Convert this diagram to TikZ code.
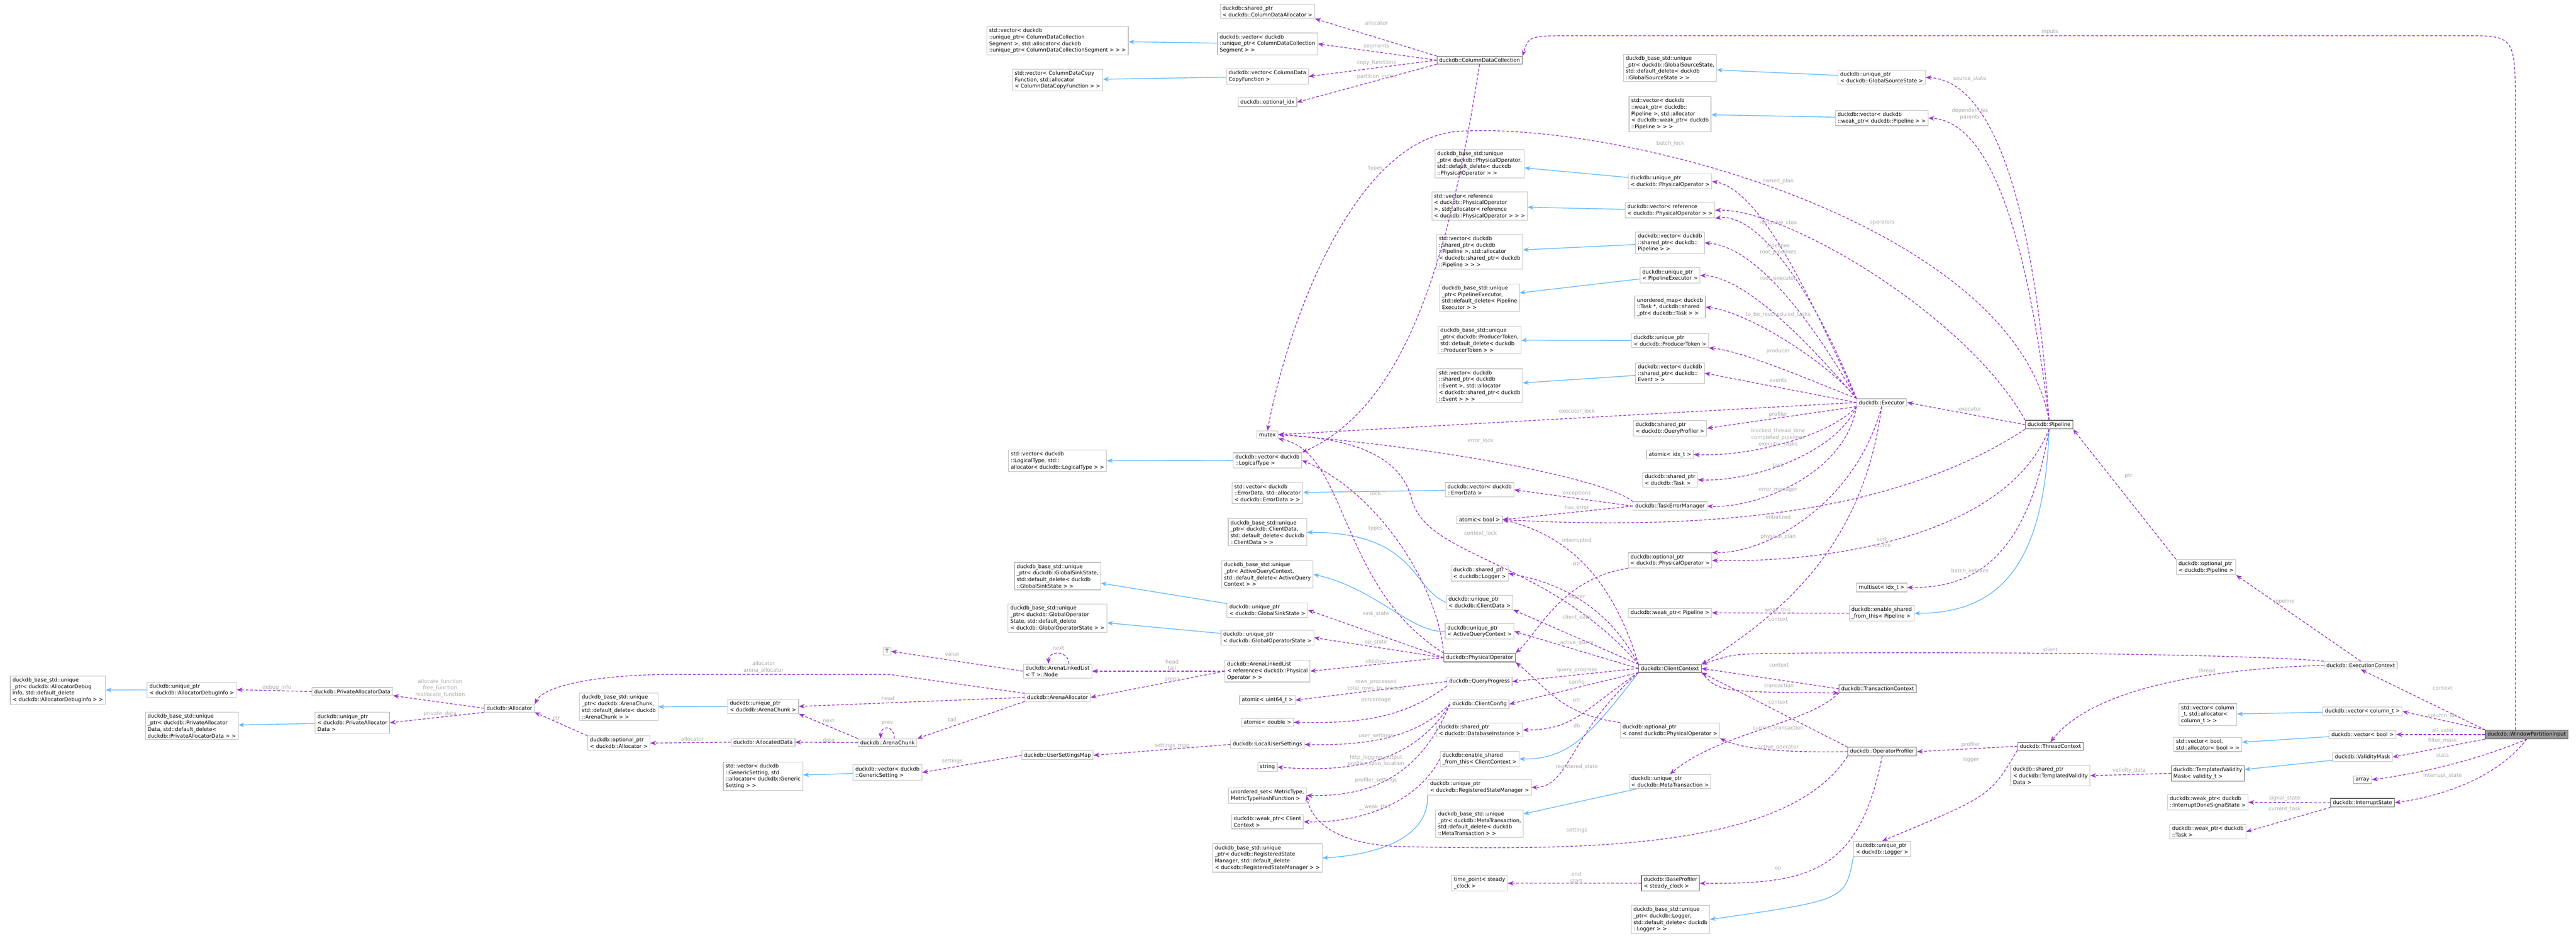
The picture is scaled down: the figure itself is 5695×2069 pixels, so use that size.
\documentclass[tikz,border=0pt]{standalone}
\usepackage{fontspec}
\setmainfont{DejaVu Sans}
\usetikzlibrary{arrows.meta}
\definecolor{mpurple}{HTML}{9A32CD}
\definecolor{iblue}{HTML}{63B8FF}
\definecolor{boxgray}{HTML}{BFBFBF}
\definecolor{dgray}{HTML}{666666}
\definecolor{lgray}{HTML}{A8A8A8}
\newcommand{\nf}{\fontsize{11.5}{14.5}\selectfont}
\begin{document}
\begin{tikzpicture}[x=1pt,y=-1pt,
 box/.style={draw=boxgray,line width=1.3pt,fill=white,align=left,inner xsep=5pt,inner ysep=4pt,font=\nf},
 dark/.style={box,draw=dgray},
 mem/.style={draw=mpurple,line width=1.6pt,dash pattern=on 6pt off 4pt,-{Stealth[length=13pt,width=10pt]}},
 inh/.style={draw=iblue,line width=1.6pt,-{Stealth[length=13pt,width=10pt]}},
 lab/.style={text=lgray,font=\nf,align=center,inner sep=0pt}]
\useasboundingbox[fill=white] (0,0) rectangle (5695,2069);
% ---------- nodes ----------
\node[box] (sCDA) at (2802,25) {duckdb::shared\_ptr\\< duckdb::ColumnDataAllocator >};
\node[box] (stdSeg) at (2338,90) {std::vector< duckdb\\::unique\_ptr< ColumnDataCollection\\Segment >, std::allocator< duckdb\\::unique\_ptr< ColumnDataCollectionSegment > > >};
\node[box] (vSeg) at (2802,97) {duckdb::vector< duckdb\\::unique\_ptr< ColumnDataCollection\\Segment > >};
\node[box] (stdCopy) at (2338,177) {std::vector< ColumnDataCopy\\Function, std::allocator\\< ColumnDataCopyFunction > >};
\node[box] (vCopy) at (2802,169) {duckdb::vector< ColumnData\\CopyFunction >};
\node[box] (optidx) at (2802,226) {duckdb::optional\_idx};
\node[dark] (CDC) at (3271,133) {duckdb::ColumnDataCollection};
\node[box] (bPO) at (3271,362) {duckdb\_base\_std::unique\\\_ptr< duckdb::PhysicalOperator,\\ std::default\_delete< duckdb\\::PhysicalOperator > >};
\node[box] (stdRef) at (3271,456) {std::vector< reference\\< duckdb::PhysicalOperator\\ >, std::allocator< reference\\< duckdb::PhysicalOperator > > >};
\node[box] (stdSPipe) at (3271,557) {std::vector< duckdb\\::shared\_ptr< duckdb\\::Pipeline >, std::allocator\\< duckdb::shared\_ptr< duckdb\\::Pipeline > > >};
\node[box] (bPE) at (3271,658) {duckdb\_base\_std::unique\\\_ptr< PipelineExecutor,\\ std::default\_delete< Pipeline\\Executor > >};
\node[box] (bGSS) at (3692,150) {duckdb\_base\_std::unique\\\_ptr< duckdb::GlobalSourceState,\\ std::default\_delete< duckdb\\::GlobalSourceState > >};
\node[box] (uGSS) at (4160,171) {duckdb::unique\_ptr\\< duckdb::GlobalSourceState >};
\node[box] (stdWPipe) at (3692,252) {std::vector< duckdb\\::weak\_ptr< duckdb::\\Pipeline >, std::allocator\\< duckdb::weak\_ptr< duckdb\\::Pipeline > > >};
\node[box] (vWPipe) at (4160,261) {duckdb::vector< duckdb\\::weak\_ptr< duckdb::Pipeline > >};
\node[box] (uPO) at (3692,401) {duckdb::unique\_ptr\\< duckdb::PhysicalOperator >};
\node[box] (vRef) at (3692,465) {duckdb::vector< reference\\< duckdb::PhysicalOperator > >};
\node[box] (vSPipe) at (3692,537) {duckdb::vector< duckdb\\::shared\_ptr< duckdb::\\Pipeline > >};
\node[box] (uPE) at (3692,609) {duckdb::unique\_ptr\\< PipelineExecutor >};
\node[box] (umap) at (3692,679) {unordered\_map< duckdb\\::Task *, duckdb::shared\\\_ptr< duckdb::Task > >};
\node[box] (bPT) at (3271,752) {duckdb\_base\_std::unique\\\_ptr< duckdb::ProducerToken,\\ std::default\_delete< duckdb\\::ProducerToken > >};
\node[box] (uPT) at (3692,753) {duckdb::unique\_ptr\\< duckdb::ProducerToken >};
\node[box] (stdEv) at (3271,853) {std::vector< duckdb\\::shared\_ptr< duckdb\\::Event >, std::allocator\\< duckdb::shared\_ptr< duckdb\\::Event > > >};
\node[box] (vEv) at (3692,825) {duckdb::vector< duckdb\\::shared\_ptr< duckdb::\\Event > >};
\node[box] (Exec) at (4160,890) {duckdb::Executor};
\node[box] (sQP) at (3692,947) {duckdb::shared\_ptr\\< duckdb::QueryProfiler >};
\node[box] (aIdx) at (3692,1005) {atomic< idx\_t >};
\node[box] (sTask) at (3692,1061) {duckdb::shared\_ptr\\< duckdb::Task >};
\node[box] (TEM) at (3692,1119) {duckdb::TaskErrorManager};
\node[dark] (Pipe) at (4530,939) {duckdb::Pipeline};
\node[box] (oPO) at (3692,1239) {duckdb::optional\_ptr\\< duckdb::PhysicalOperator >};
\node[box] (mset) at (4160,1299) {multiset< idx\_t >};
\node[box] (esfPipe) at (4160,1356) {duckdb::enable\_shared\\\_from\_this< Pipeline >};
\node[box] (wPipe) at (3692,1355) {duckdb::weak\_ptr< Pipeline >};
\node[box] (mutex) at (2802,961) {mutex};
\node[box] (stdLT) at (2338,1019) {std::vector< duckdb\\::LogicalType, std::\\allocator< duckdb::LogicalType > >};
\node[box] (vLT) at (2802,1018) {duckdb::vector< duckdb\\::LogicalType >};
\node[box] (stdED) at (2802,1090) {std::vector< duckdb\\::ErrorData, std::allocator\\< duckdb::ErrorData > >};
\node[box] (vED) at (3271,1083) {duckdb::vector< duckdb\\::ErrorData >};
\node[box] (bCD) at (2802,1177) {duckdb\_base\_std::unique\\\_ptr< duckdb::ClientData,\\ std::default\_delete< duckdb\\::ClientData > >};
\node[box] (aBool) at (3271,1149) {atomic< bool >};
\node[box] (bGSink) at (2338,1274) {duckdb\_base\_std::unique\\\_ptr< duckdb::GlobalSinkState,\\ std::default\_delete< duckdb\\::GlobalSinkState > >};
\node[box] (bAQC) at (2802,1270) {duckdb\_base\_std::unique\\\_ptr< ActiveQueryContext,\\ std::default\_delete< ActiveQuery\\Context > >};
\node[box] (sLog) at (3271,1268) {duckdb::shared\_ptr\\< duckdb::Logger >};
\node[box] (uCD) at (3271,1332) {duckdb::unique\_ptr\\< duckdb::ClientData >};
\node[box] (uGSink) at (2802,1349) {duckdb::unique\_ptr\\< duckdb::GlobalSinkState >};
\node[box] (bGOS) at (2338,1367) {duckdb\_base\_std::unique\\\_ptr< duckdb::GlobalOperator\\State, std::default\_delete\\< duckdb::GlobalOperatorState > >};
\node[box] (uGOS) at (2802,1410) {duckdb::unique\_ptr\\< duckdb::GlobalOperatorState >};
\node[box] (uAQC) at (3271,1396) {duckdb::unique\_ptr\\< ActiveQueryContext >};
\node[dark] (PO) at (3271,1454) {duckdb::PhysicalOperator};
\node[box] (ALL) at (2802,1484) {duckdb::ArenaLinkedList\\< reference< duckdb::Physical\\Operator > >};
\node[box] (QProg) at (3271,1507) {duckdb::QueryProgress};
\node[box] (au64) at (2802,1548) {atomic< uint64\_t >};
\node[box] (aDbl) at (2802,1597) {atomic< double >};
\node[box] (CConf) at (3271,1557) {duckdb::ClientConfig};
\node[box] (sDB) at (3271,1614) {duckdb::shared\_ptr\\< duckdb::DatabaseInstance >};
\node[box] (LUS) at (2802,1646) {duckdb::LocalUserSettings};
\node[box] (esfCC) at (3271,1678) {duckdb::enable\_shared\\\_from\_this< ClientContext >};
\node[box] (str) at (2802,1696) {string};
\node[box] (uRSM) at (3271,1741) {duckdb::unique\_ptr\\< duckdb::RegisteredStateManager >};
\node[box] (uset) at (2802,1759) {unordered\_set< MetricType,\\ MetricTypeHashFunction >};
\node[box] (wCC) at (2802,1817) {duckdb::weak\_ptr< Client\\Context >};
\node[box] (bMT) at (3271,1821) {duckdb\_base\_std::unique\\\_ptr< duckdb::MetaTransaction,\\ std::default\_delete< duckdb\\::MetaTransaction > >};
\node[box] (bRSM) at (2802,1897) {duckdb\_base\_std::unique\\\_ptr< duckdb::RegisteredState\\Manager, std::default\_delete\\< duckdb::RegisteredStateManager > >};
\node[box] (tp) at (3271,1953) {time\_point< steady\\\_clock >};
\node[dark] (CC) at (3692,1478) {duckdb::ClientContext};
\node[box] (ocPO) at (3692,1615) {duckdb::optional\_ptr\\< const duckdb::PhysicalOperator >};
\node[box] (uMT) at (3692,1728) {duckdb::unique\_ptr\\< duckdb::MetaTransaction >};
\node[dark] (BP) at (3693,1953) {duckdb::BaseProfiler\\< steady\_clock >};
\node[box] (bLog) at (3693,2033) {duckdb\_base\_std::unique\\\_ptr< duckdb::Logger,\\ std::default\_delete< duckdb\\::Logger > >};
\node[dark] (TC) at (4151,1523) {duckdb::TransactionContext};
\node[dark] (OP) at (4161,1662) {duckdb::OperatorProfiler};
\node[dark] (ThC) at (4533,1650) {duckdb::ThreadContext};
\node[box] (uLog) at (4161,1877) {duckdb::unique\_ptr\\< duckdb::Logger >};
\node[box] (sTVD) at (4533,1715) {duckdb::shared\_ptr\\< duckdb::TemplatedValidity\\Data >};
\node[dark] (TVM) at (4881,1710) {duckdb::TemplatedValidity\\Mask< validity\_t >};
\node[box] (stdCol) at (4881,1580) {std::vector< column\\\_t, std::allocator<\\ column\_t > >};
\node[box] (vCol) at (5223,1573) {duckdb::vector< column\_t >};
\node[box] (stdBool) at (4881,1646) {std::vector< bool,\\ std::allocator< bool > >};
\node[box] (vBool) at (5223,1624) {duckdb::vector< bool >};
\node[box] (VM) at (5223,1674) {duckdb::ValidityMask};
\node[box] (arr) at (5223,1724) {array};
\node[box] (wIDS) at (4881,1774) {duckdb::weak\_ptr< duckdb\\::InterruptDoneSignalState >};
\node[dark] (IS) at (5223,1775) {duckdb::InterruptState};
\node[box] (wTask) at (4881,1839) {duckdb::weak\_ptr< duckdb\\::Task >};
\node[box,fill=black!40,draw=dgray] (W) at (5586,1624) {duckdb::WindowPartitionInput};
\node[box] (oPipe) at (4877,1254) {duckdb::optional\_ptr\\< duckdb::Pipeline >};
\node[box] (EC) at (5219,1471) {duckdb::ExecutionContext};
\node[box] (bADI) at (128,1526) {duckdb\_base\_std::unique\\\_ptr< duckdb::AllocatorDebug\\Info, std::default\_delete\\< duckdb::AllocatorDebugInfo > >};
\node[box] (uADI) at (424,1525) {duckdb::unique\_ptr\\< duckdb::AllocatorDebugInfo >};
\node[box] (PAD) at (779,1529) {duckdb::PrivateAllocatorData};
\node[box] (Alloc) at (1126,1566) {duckdb::Allocator};
\node[box] (bPAD) at (424,1605) {duckdb\_base\_std::unique\\\_ptr< duckdb::PrivateAllocator\\Data, std::default\_delete<\\ duckdb::PrivateAllocatorData > >};
\node[box] (uPAD) at (779,1598) {duckdb::unique\_ptr\\< duckdb::PrivateAllocator\\Data >};
\node[box] (bAC) at (1368,1563) {duckdb\_base\_std::unique\\\_ptr< duckdb::ArenaChunk,\\ std::default\_delete< duckdb\\::ArenaChunk > >};
\node[box] (oAlloc) at (1368,1643) {duckdb::optional\_ptr\\< duckdb::Allocator >};
\node[box] (stdGS) at (1687,1716) {std::vector< duckdb\\::GenericSetting, std\\::allocator< duckdb::Generic\\Setting > >};
\node[box] (vGS) at (1962,1708) {duckdb::vector< duckdb\\::GenericSetting >};
\node[box] (T) at (1961,1440) {T};
\node[box] (Node) at (2338,1484) {duckdb::ArenaLinkedList\\< T >::Node};
\node[box] (AA) at (2338,1542) {duckdb::ArenaAllocator};
\node[box] (uAC) at (1687,1562) {duckdb::unique\_ptr\\< duckdb::ArenaChunk >};
\node[box] (AD) at (1687,1641) {duckdb::AllocatedData};
\node[box] (AC) at (1962,1642) {duckdb::ArenaChunk};
\node[box] (USM) at (2338,1670) {duckdb::UserSettingsMap};
% ---------- inheritance (blue) ----------
\foreach \a/\b in {vSeg/stdSeg,vCopy/stdCopy,uGSS/bGSS,vWPipe/stdWPipe,uPO/bPO,vRef/stdRef,vSPipe/stdSPipe,uPE/bPE,uPT/bPT,vEv/stdEv,vLT/stdLT,vED/stdED,uGSink/bGSink,uGOS/bGOS,vCol/stdCol,vBool/stdBool,VM/TVM,uAC/bAC,uADI/bADI,uPAD/bPAD,vGS/stdGS,uMT/bMT}
  \draw[inh] (\a) -- (\b);
\draw[inh] (uCD.west) .. controls (3120,1300) and (3130,1177) .. (bCD.east);
\draw[inh] (uAQC.west) .. controls (3120,1400) and (3040,1300) .. (bAQC.east);
\draw[inh] (uRSM.south west) .. controls (3160,1850) and (3050,1890) .. (bRSM.east);
\draw[inh] (CC.south west) .. controls (3520,1620) and (3470,1680) .. (esfCC.east);
\draw[inh] (Pipe.south) .. controls (4520,1250) and (4420,1356) .. (esfPipe.east);
\draw[inh] (uLog.south west) .. controls (4080,1990) .. (bLog.east);
% ---------- members (purple) ----------
% WindowPartitionInput
\draw[mem] ([xshift=-25pt]W.north) -- (5561,250) .. controls (5561,79) .. (5450,79) -- (3480,79) .. controls (3380,79) .. (CDC.north east);
\node[lab] (l1) at (4532,70) {inputs};
\draw[mem] (W.north west) -- (EC.south);           \node[lab] (l2) at (5400,1522) {context};
\draw[mem] (W.north west) -- (vCol.east);          \node[lab] (l3) at (5400,1583) {column\_ids};
\draw[mem] (W.west) -- (vBool.east);               \node[lab] (l4) at (5400,1616) {all\_valid};
\draw[mem] (W.south west) -- (VM.east);            \node[lab] (l5) at (5400,1638) {filter\_mask};
\draw[mem] (W.south) .. controls (5480,1680) and (5350,1710) .. (arr.east); \node[lab] (l6) at (5400,1670) {stats};
\draw[mem] (W.south) .. controls (5520,1720) and (5400,1760) .. (IS.east); \node[lab] (l7) at (5400,1715) {interrupt\_state};
\draw[mem] (TVM.west) -- (sTVD.east);              \node[lab] (l8) at (4707,1704) {validity\_data};
\draw[mem] (IS.west) -- (wIDS.east);               \node[lab] (l9) at (5051,1765) {signal\_state};
\draw[mem] (IS.south west) -- (wTask.east);        \node[lab] (l10) at (5051,1789) {current\_task};
% ExecutionContext
\draw[mem] (EC.north) -- (oPipe.south east);       \node[lab] (l11) at (5050,1330) {pipeline};
\draw[mem] (EC.north west) .. controls (4950,1445) and (4300,1440) .. (3900,1445) .. controls (3830,1447) .. (CC.north east); \node[lab] (l12) at (4533,1436) {client};
\draw[mem] (EC.west) .. controls (4850,1480) and (4620,1530) .. (ThC.north); \node[lab] (l13) at (4879,1483) {thread};
\draw[mem] (oPipe.north west) -- (Pipe.south east); \node[lab] (l14) at (4706,1052) {ptr};
% ThreadContext / profilers
\draw[mem] (ThC.west) -- (OP.east);                \node[lab] (l15) at (4357,1647) {profiler};
\draw[mem] (ThC.south west) .. controls (4400,1760) .. (uLog.north); \node[lab] (l16) at (4357,1680) {logger};
\draw[mem] (OP.north west) -- (CC.south east);     \node[lab] (l17) at (3931,1552) {context};
\draw[mem] (OP.west) .. controls (3900,1665) and (3840,1650) .. (ocPO.south east); \node[lab] (l18) at (3931,1653) {active\_operator};
\draw[mem] (OP.south west) .. controls (3950,1880) and (3500,1880) .. (3100,1872) .. controls (2960,1868) and (2900,1820) .. (uset.east); \node[lab] (l19) at (3486,1836) {settings};
\draw[mem] (OP.south) .. controls (4110,1930) and (4000,1955) .. (BP.east); \node[lab] (l20) at (3931,1921) {op};
\draw[mem] (BP.west) -- (tp.east);                 \node[lab] (l21) at (3485,1940) {end\\start};
% TransactionContext
\draw[mem] (TC.west) -- (CC.east);                 \node[lab] (l22) at (3933,1470) {context};
\draw[mem] (CC.south east) .. controls (3800,1530) .. (TC.south west); \node[lab] (l23) at (3933,1516) {transaction};
\draw[mem] (TC.south west) .. controls (4000,1600) and (3800,1620) .. (uMT.north); \node[lab] (l24) at (3931,1610) {current\_transaction};
\draw[mem] (ocPO.north west) .. controls (3450,1580) and (3420,1520) .. (PO.south east); \node[lab] (l25) at (3486,1549) {ptr};
% ClientContext
\draw[mem] (CC.north west) .. controls (3560,1350) and (3460,1290) .. (sLog.east); \node[lab] (l26) at (3486,1320) {logger};
\draw[mem] (CC.north west) -- (uCD.south east);    \node[lab] (l27) at (3486,1365) {client\_data};
\draw[mem] (CC.west) -- (uAQC.east);               \node[lab] (l28) at (3486,1421) {active\_query};
\draw[mem] (CC.west) -- (QProg.east);              \node[lab] (l29) at (3486,1483) {query\_progress};
\draw[mem] (CC.south west) -- (CConf.east);        \node[lab] (l30) at (3486,1509) {config};
\draw[mem] (CC.south west) .. controls (3500,1570) and (3480,1614) .. (sDB.east); \node[lab] (l31) at (3486,1605) {db};
\draw[mem] (CC.south west) .. controls (3470,1620) and (3470,1741) .. (uRSM.east); \node[lab] (l32) at (3486,1696) {registered\_state};
\draw[mem] (CC.north west) .. controls (3560,1260) and (3450,1180) .. (aBool.east); \node[lab] (l33) at (3486,1196) {interrupted};
\draw[mem] (CC.north west) .. controls (3420,1235) and (3150,1235) .. (3120,1100) .. controls (3090,990) and (2950,968) .. (mutex.east); \node[lab] (l34) at (3273,1180) {context\_lock};
% Executor
\draw[mem] (Exec.south) .. controls (4120,1200) and (3950,1350) .. (CC.north east); \node[lab] (l35) at (3931,1369) {context};
\draw[mem] (Exec.west) -- (mutex.east);            \node[lab] (l36) at (3486,910) {executor\_lock};
\draw[mem] (Exec.north west) .. controls (4020,700) and (3900,420) .. (uPO.east); \node[lab] (l37) at (3931,401) {owned\_plan};
\draw[mem] (Exec.north west) .. controls (4000,620) and (3880,470) .. (vRef.south east); \node[lab] (l38) at (3931,493) {recursive\_ctes};
\draw[mem] (Exec.north west) .. controls (4000,700) and (3880,545) .. (vSPipe.east); \node[lab] (l39) at (3931,551) {pipelines\\root\_pipelines};
\draw[mem] (Exec.north west) .. controls (4000,760) and (3860,612) .. (uPE.east); \node[lab] (l40) at (3931,616) {root\_executor};
\draw[mem] (Exec.north west) .. controls (4050,810) and (3870,690) .. (umap.east); \node[lab] (l41) at (3931,696) {to\_be\_rescheduled\_tasks};
\draw[mem] (Exec.north west) .. controls (4000,840) and (3850,775) .. (uPT.south east); \node[lab] (l42) at (3931,777) {producer};
\draw[mem] (Exec.west) -- (vEv.east);              \node[lab] (l43) at (3931,841) {events};
\draw[mem] (Exec.south west) -- (sQP.east);        \node[lab] (l44) at (3931,916) {profiler};
\draw[mem] (Exec.south west) .. controls (4050,960) and (3880,1010) .. (aIdx.east); \node[lab] (l45) at (3931,968) {blocked\_thread\_time\\completed\_pipelines\\executor\_tasks};
\draw[mem] (Exec.south west) .. controls (4060,1000) and (3880,1065) .. (sTask.east); \node[lab] (l46) at (3931,1028) {task};
\draw[mem] (Exec.south west) .. controls (4080,1050) and (3880,1125) .. (TEM.east); \node[lab] (l47) at (3931,1084) {error\_manager};
\draw[mem] (Exec.south) .. controls (4100,1120) and (3900,1225) .. (oPO.north east); \node[lab] (l48) at (3931,1187) {physical\_plan};
% TaskErrorManager
\draw[mem] (TEM.west) -- (vED.east);               \node[lab] (l49) at (3486,1091) {exceptions};
\draw[mem] (TEM.west) -- (aBool.east);             \node[lab] (l50) at (3486,1123) {has\_error};
\draw[mem] (TEM.north west) .. controls (3550,1060) and (3200,990) .. (mutex.east); \node[lab] (l51) at (3273,975) {error\_lock};
% Pipeline
\draw[mem] (Pipe.west) -- (Exec.east);             \node[lab] (l52) at (4355,904) {executor};
\draw[mem] (Pipe.north) .. controls (4500,500) and (4420,180) .. (uGSS.east); \node[lab] (l53) at (4355,175) {source\_state};
\draw[mem] (Pipe.north) .. controls (4490,600) and (4420,270) .. (vWPipe.east); \node[lab] (l54) at (4355,252) {dependencies\\parents};
\draw[mem] (Pipe.north west) .. controls (4350,700) and (3950,460) .. (vRef.east); \node[lab] (l55) at (4161,492) {operators};
\draw[mem] (Pipe.north) .. controls (4450,500) and (3600,270) .. (3230,290) .. controls (3000,300) and (2850,700) .. (mutex.north); \node[lab] (l56) at (3693,318) {batch\_lock};
\draw[mem] (Pipe.south west) .. controls (4200,1130) and (3800,1175) .. (aBool.east); \node[lab] (l57) at (3931,1143) {initialized};
\draw[mem] (Pipe.south) .. controls (4430,1200) and (4000,1245) .. (oPO.east); \node[lab] (l58) at (4161,1199) {sink\\source};
\draw[mem] (Pipe.south) .. controls (4480,1250) and (4350,1300) .. (mset.east); \node[lab] (l59) at (4355,1263) {batch\_indexes};
\draw[mem] (esfPipe.west) -- (wPipe.east);         \node[lab] (l60) at (3933,1349) {weak\_this\_};
\draw[mem] (oPO.south west) .. controls (3450,1280) and (3400,1400) .. (PO.north east); \node[lab] (l61) at (3486,1247) {ptr};
% ColumnDataCollection
\draw[mem] (CDC.north west) -- (sCDA.south east);  \node[lab] (l62) at (3043,51) {allocator};
\draw[mem] (CDC.west) -- (vSeg.east);              \node[lab] (l63) at (3043,103) {segments};
\draw[mem] (CDC.west) -- (vCopy.east);             \node[lab] (l64) at (3043,139) {copy\_functions};
\draw[mem] (CDC.south west) -- (optidx.east);      \node[lab] (l65) at (3043,169) {partition\_index};
\draw[mem] (CDC.south) .. controls (3200,600) and (3100,900) .. (vLT.north east); \node[lab] (l66) at (3041,373) {types};
% PhysicalOperator
\draw[mem] (PO.north west) .. controls (3180,1300) and (3050,1090) .. (vLT.east); \node[lab] (l67) at (3041,1169) {types};
\draw[mem] (PO.north west) .. controls (2960,1300) and (2980,1000) .. (mutex.south east); \node[lab] (l68) at (3041,1091) {lock};
\draw[mem] (PO.west) -- (uGSink.east);             \node[lab] (l69) at (3042,1357) {sink\_state};
\draw[mem] (PO.west) -- (uGOS.east);               \node[lab] (l70) at (3042,1420) {op\_state};
\draw[mem] (PO.west) -- (ALL.east);                \node[lab] (l71) at (3042,1462) {children};
% QueryProgress, ClientConfig
\draw[mem] (QProg.west) -- (au64.east);            \node[lab] (l72) at (3042,1515) {rows\_processed\\total\_rows\_to\_process};
\draw[mem] (QProg.south west) .. controls (3100,1590) and (3000,1600) .. (aDbl.east); \node[lab] (l73) at (3042,1548) {percentage};
\draw[mem] (CConf.west) .. controls (3140,1620) and (3050,1650) .. (LUS.east); \node[lab] (l74) at (3042,1628) {user\_settings};
\draw[mem] (CConf.west) .. controls (3130,1680) and (3000,1710) .. (str.east); \node[lab] (l75) at (3042,1682) {http\_logging\_output\\profiler\_save\_location};
\draw[mem] (CConf.west) .. controls (3130,1740) and (3000,1760) .. (uset.east); \node[lab] (l76) at (3042,1725) {profiler\_settings};
\draw[mem] (esfCC.west) .. controls (3130,1780) and (3000,1820) .. (wCC.east); \node[lab] (l77) at (3042,1785) {\_\_weak\_this\_};
\draw[mem] (LUS.west) -- (USM.east);               \node[lab] (l78) at (2591,1649) {settings\_map};
\draw[mem] (USM.west) -- (vGS.east);               \node[lab] (l79) at (2105,1683) {settings};
% Arena
\draw[mem] (ALL.west) -- (Node.east);              \node[lab] (l80) at (2591,1470) {head\\tail};
\draw[mem] (ALL.west) -- (AA.east);                \node[lab] (l81) at (2591,1502) {arena};
\draw[mem] (Node.west) -- (T.east);                \node[lab] (l82) at (2105,1446) {value};
\draw[mem] ([xshift=25pt]Node.north) .. controls +(0,-30) and +(0,-30) .. ([xshift=-20pt]Node.north); \node[lab] (l83) at (2340,1433) {next};
\draw[mem] (AA.north west) -- (1965,1491) -- (1500,1491) .. controls (1300,1491) and (1200,1520) .. (Alloc.north east); \node[lab] (l84) at (1688,1475) {allocator\\arena\_allocator};
\draw[mem] (AA.west) -- (uAC.east);                \node[lab] (l85) at (1963,1544) {head};
\draw[mem] (AA.south west) -- (AC.north east);     \node[lab] (l86) at (2105,1591) {tail};
\draw[mem] (AC.west) -- (AD.east);                 \node[lab] (l87) at (1832,1636) {data};
\draw[mem] (AC.north west) -- (uAC.south east);    \node[lab] (l88) at (1832,1594) {next};
\draw[mem] ([xshift=15pt]AC.north) .. controls +(0,-30) and +(0,-30) .. ([xshift=-15pt]AC.north); \node[lab] (l89) at (1962,1599) {prev};
\draw[mem] (AD.west) -- (oAlloc.east);             \node[lab] (l90) at (1531,1634) {allocator};
\draw[mem] (oAlloc.north west) -- (Alloc.south east); \node[lab] (l91) at (1230,1589) {ptr};
\draw[mem] (Alloc.west) -- (PAD.south east);       \node[lab] (l92) at (973,1522) {allocate\_function\\free\_function\\reallocate\_function};
\draw[mem] (Alloc.south west) -- (uPAD.east);      \node[lab] (l93) at (973,1578) {private\_data};
\draw[mem] (PAD.west) -- (uADI.east);              \node[lab] (l94) at (612,1520) {debug\_info};
\end{tikzpicture}
\end{document}
